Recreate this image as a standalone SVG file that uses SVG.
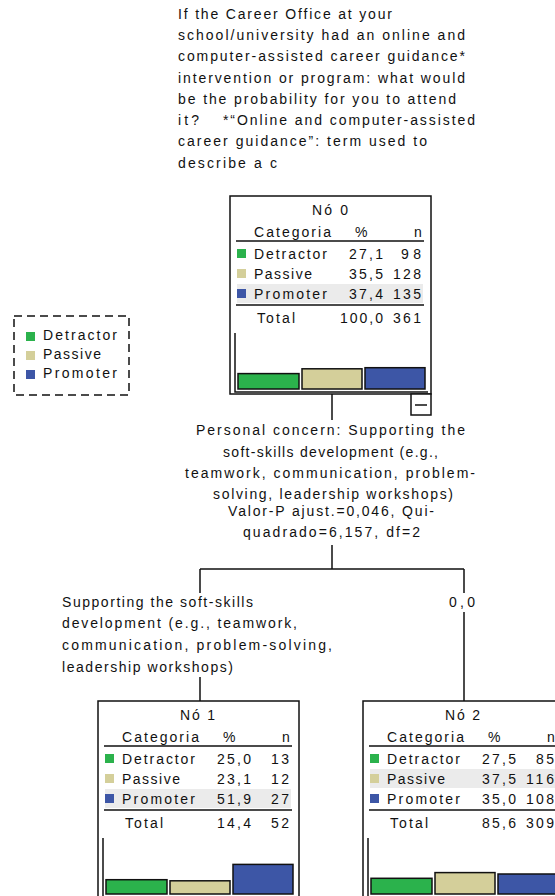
<svg xmlns="http://www.w3.org/2000/svg" width="555" height="896" viewBox="0 0 555 896">
<style>
.t{font-family:"Liberation Sans",Arial,sans-serif;font-size:14px;fill:#111}
.box{fill:#fff;stroke:#111;stroke-width:1.5}
.ln{stroke:#111;stroke-width:1.5;fill:none}
.hl{fill:#ebebeb}
.g{fill:#2bb24c}.y{fill:#d4cf9a}.b{fill:#3d56a6}
.bar{stroke:#111;stroke-width:1.5}
.dash{fill:none;stroke:#111;stroke-width:1.5;stroke-dasharray:8 5}
</style>
<rect width="555" height="896" fill="#fff"/>

<g id="title">
<text class="t" x="178" y="19" textLength="214">If the Career Office at your</text>
<text class="t" x="178" y="40" textLength="287">school/university had an online and</text>
<text class="t" x="178" y="61" textLength="287">computer-assisted career guidance*</text>
<text class="t" x="178" y="83" textLength="287">intervention or program: what would</text>
<text class="t" x="178" y="104" textLength="278">be the probability for you to attend</text>
<text class="t" x="178" y="125" textLength="21">it?</text>
<text class="t" x="223" y="125" textLength="252">*“Online and computer-assisted</text>
<text class="t" x="178" y="146" textLength="249">career guidance”: term used to</text>
<text class="t" x="178" y="168" textLength="99">describe a c</text>
</g>

<g id="legend">
<rect class="dash" x="14" y="316" width="115" height="79"/>
<rect class="g" x="26" y="332" width="9" height="9"/>
<rect class="y" x="26" y="351" width="9" height="9"/>
<rect class="b" x="26" y="370" width="9" height="9"/>
<text class="t" x="43" y="340" textLength="74">Detractor</text>
<text class="t" x="43" y="359" textLength="58">Passive</text>
<text class="t" x="43" y="378" textLength="74">Promoter</text>
</g>

<g id="connectors">
<path class="ln" d="M332 394V420M332 545V569M200 569H464M200 569V593M200 677V701M464 569V593M464 612V701"/>
</g>

<g id="split-label">
<text class="t" x="196" y="435" textLength="269">Personal concern: Supporting the</text>
<text class="t" x="223" y="457" textLength="215">soft-skills development (e.g.,</text>
<text class="t" x="185" y="478" textLength="290">teamwork, communication, problem-</text>
<text class="t" x="213" y="499" textLength="240">solving, leadership workshops)</text>
<text class="t" x="228" y="516" textLength="206">Valor-P ajust.=0,046, Qui-</text>
<text class="t" x="243" y="537" textLength="177">quadrado=6,157, df=2</text>
</g>

<g id="edge-labels">
<text class="t" x="62" y="607" textLength="191">Supporting the soft-skills</text>
<text class="t" x="62" y="628" textLength="235">development (e.g., teamwork,</text>
<text class="t" x="62" y="650" textLength="270">communication, problem-solving,</text>
<text class="t" x="62" y="672" textLength="171">leadership workshops)</text>
<text class="t" x="449" y="607" textLength="26">0,0</text>
</g>

<g id="node0" transform="translate(230,196)">
<rect class="box" x="0" y="0" width="201" height="198"/>
<rect class="hl" x="7" y="88" width="186" height="19"/>
<text class="t" x="82" y="19" textLength="36">Nó 0</text>
<text class="t" x="24" y="41" textLength="77">Categoria</text>
<text class="t" x="125" y="41" textLength="13">%</text>
<text class="t" x="184" y="41" textLength="7">n</text>
<path class="ln" d="M6 45H194M6 109H194"/>
<rect class="g" x="7" y="53" width="9" height="9"/>
<rect class="y" x="7" y="73" width="9" height="9"/>
<rect class="b" x="7" y="93" width="9" height="9"/>
<text class="t" x="24" y="63" textLength="73">Detractor</text>
<text class="t" x="119" y="63" textLength="34">27,1</text>
<text class="t" x="171" y="63" textLength="20">98</text>
<text class="t" x="24" y="83" textLength="58">Passive</text>
<text class="t" x="119" y="83" textLength="34">35,5</text>
<text class="t" x="163" y="83" textLength="28">128</text>
<text class="t" x="24" y="103" textLength="73">Promoter</text>
<text class="t" x="119" y="103" textLength="34">37,4</text>
<text class="t" x="163" y="103" textLength="28">135</text>
<text class="t" x="27" y="127" textLength="38">Total</text>
<text class="t" x="110" y="127" textLength="43">100,0</text>
<text class="t" x="163" y="127" textLength="28">361</text>
<path class="ln" d="M5 137V196H198"/>
<rect class="g bar" x="8" y="177.6" width="61" height="15.4"/>
<rect class="y bar" x="72" y="172.8" width="60" height="20.2"/>
<rect class="b bar" x="135" y="171.7" width="60" height="21.3"/>
<rect class="box" x="181" y="198" width="20" height="21"/>
<path class="ln" d="M185 209H197"/>
</g>

<g id="node1" transform="translate(98,701)">
<rect class="box" x="0" y="0" width="201" height="198"/>
<rect class="hl" x="7" y="88" width="186" height="19"/>
<text class="t" x="82" y="19" textLength="35">Nó 1</text>
<text class="t" x="24" y="41" textLength="77">Categoria</text>
<text class="t" x="125" y="41" textLength="13">%</text>
<text class="t" x="184" y="41" textLength="7">n</text>
<path class="ln" d="M6 45H194M6 109H194"/>
<rect class="g" x="7" y="53" width="9" height="9"/>
<rect class="y" x="7" y="73" width="9" height="9"/>
<rect class="b" x="7" y="93" width="9" height="9"/>
<text class="t" x="24" y="63" textLength="73">Detractor</text>
<text class="t" x="119" y="63" textLength="34">25,0</text>
<text class="t" x="173" y="63" textLength="18">13</text>
<text class="t" x="24" y="83" textLength="58">Passive</text>
<text class="t" x="119" y="83" textLength="34">23,1</text>
<text class="t" x="173" y="83" textLength="18">12</text>
<text class="t" x="24" y="103" textLength="73">Promoter</text>
<text class="t" x="119" y="103" textLength="34">51,9</text>
<text class="t" x="173" y="103" textLength="18">27</text>
<text class="t" x="27" y="127" textLength="38">Total</text>
<text class="t" x="119" y="127" textLength="34">14,4</text>
<text class="t" x="173" y="127" textLength="18">52</text>
<path class="ln" d="M5 137V196H198"/>
<rect class="g bar" x="8" y="178.7" width="61" height="14.3"/>
<rect class="y bar" x="72" y="179.8" width="60" height="13.2"/>
<rect class="b bar" x="135" y="163.4" width="60" height="29.6"/>
</g>

<g id="node2" transform="translate(363,701)">
<rect class="box" x="0" y="0" width="201" height="198"/>
<rect class="hl" x="7" y="68" width="186" height="19"/>
<text class="t" x="82" y="19" textLength="35">Nó 2</text>
<text class="t" x="24" y="41" textLength="77">Categoria</text>
<text class="t" x="125" y="41" textLength="13">%</text>
<text class="t" x="184" y="41" textLength="7">n</text>
<path class="ln" d="M6 45H194M6 109H194"/>
<rect class="g" x="7" y="53" width="9" height="9"/>
<rect class="y" x="7" y="73" width="9" height="9"/>
<rect class="b" x="7" y="93" width="9" height="9"/>
<text class="t" x="24" y="63" textLength="73">Detractor</text>
<text class="t" x="119" y="63" textLength="34">27,5</text>
<text class="t" x="173" y="63" textLength="18">85</text>
<text class="t" x="24" y="83" textLength="58">Passive</text>
<text class="t" x="119" y="83" textLength="34">37,5</text>
<text class="t" x="163" y="83" textLength="28">116</text>
<text class="t" x="24" y="103" textLength="73">Promoter</text>
<text class="t" x="119" y="103" textLength="34">35,0</text>
<text class="t" x="163" y="103" textLength="28">108</text>
<text class="t" x="27" y="127" textLength="38">Total</text>
<text class="t" x="119" y="127" textLength="34">85,6</text>
<text class="t" x="163" y="127" textLength="28">309</text>
<path class="ln" d="M5 137V196H198"/>
<rect class="g bar" x="8" y="177.3" width="61" height="15.7"/>
<rect class="y bar" x="72" y="171.6" width="60" height="21.4"/>
<rect class="b bar" x="135" y="173" width="60" height="20"/>
</g>
</svg>
